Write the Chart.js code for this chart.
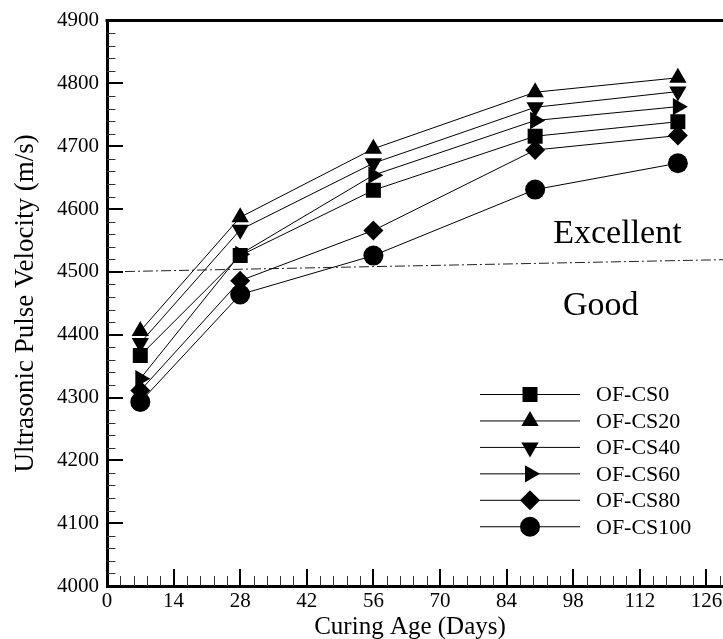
<!DOCTYPE html>
<html><head><meta charset="utf-8">
<script src="https://cdn.jsdelivr.net/npm/chart.js@4"></script>
<style>
html,body{margin:0;padding:0;overflow:hidden;background:#fff;width:723px;height:639px}
#wrap{width:800px;height:639px}
</style></head>
<body><div id="wrap"><canvas id="c" width="800" height="639"></canvas></div>
<script>
// ---- data ----
const days = [7, 28, 56, 90, 120];
const seriesNames = ['OF-CS0', 'OF-CS20', 'OF-CS40', 'OF-CS60', 'OF-CS80', 'OF-CS100'];
const cs0   = [4367, 4526, 4630, 4716, 4739];
const cs20  = [4406, 4587, 4696, 4786, 4809];
const cs40  = [4387, 4567, 4673, 4762, 4787];
const cs60  = [4330, 4528, 4654, 4741, 4763];
const cs80  = [4311, 4486, 4566, 4694, 4717];
const cs100 = [4293, 4464, 4526, 4631, 4673];
const limitDays = [0, 140];
const limitVelocity = [4500, 4521];
const zoneLabels = ['Excellent', 'Good'];
const zoneDays = [107.3, 103.8];
const zoneVelocity = [4546, 4431];
const xTitle = 'Curing Age (Days)';
const yTitle = 'Ultrasonic Pulse Velocity (m/s)';

const FONT = "'Liberation Serif','Times New Roman',serif";
const styles = [
  {pointStyle:'rect', rotation:0, radius:10.6},
  {pointStyle:'triangle', rotation:0, radius:10},
  {pointStyle:'triangle', rotation:180, radius:10},
  {pointStyle:'triangle', rotation:90, radius:10},
  {pointStyle:'rectRot', rotation:0, radius:10},
  {pointStyle:'circle', rotation:0, radius:10}
];
const allSeries = [cs0, cs20, cs40, cs60, cs80, cs100];

const datasets = allSeries.map((vals, i) => ({
  label: seriesNames[i],
  data: days.map((d, j) => ({x: d, y: vals[j]})),
  borderColor: '#000',
  backgroundColor: '#000',
  borderWidth: 1,
  pointStyle: styles[i].pointStyle,
  pointRotation: styles[i].rotation,
  pointRadius: styles[i].radius,
  pointBorderWidth: 0,
  pointBackgroundColor: '#000',
  tension: 0
}));
datasets.push({
  label: 'limit',
  data: limitDays.map((d, j) => ({x: d, y: limitVelocity[j]})),
  borderColor: '#222',
  borderWidth: 1,
  borderDash: [10, 3, 2, 3],
  pointRadius: 0,
  tension: 0
});

function drawMarker(ctx, st, x, y) {
  if (Chart.helpers && Chart.helpers.drawPoint) {
    ctx.save();
    ctx.fillStyle = '#000'; ctx.strokeStyle = '#000';
    Chart.helpers.drawPoint(ctx, {pointStyle: st.pointStyle, rotation: st.rotation, radius: st.radius, borderWidth: 0}, x, y);
    ctx.restore();
  }
}

const decor = {
  id: 'decor',
  afterDraw(chart) {
    const ctx = chart.ctx, xs = chart.scales.x, ys = chart.scales.y, ca = chart.chartArea;
    ctx.save();
    // top frame line
    ctx.strokeStyle = '#000'; ctx.lineWidth = 3;
    ctx.beginPath(); ctx.moveTo(ca.left - 1.5, ca.top); ctx.lineTo(ca.right, ca.top); ctx.stroke();
    // y ticks (inward)
    for (let i = 0; i <= 45; i++) {
      const v = 4000 + i * 20;
      const y = ys.getPixelForValue(v);
      const major = i % 5 === 0;
      ctx.lineWidth = major ? 2 : 1;
      ctx.strokeStyle = major ? '#000' : '#333';
      ctx.beginPath(); ctx.moveTo(ca.left, Math.round(y) + (major ? 0 : 0.5)); ctx.lineTo(ca.left + (major ? 16 : 8.5), Math.round(y) + (major ? 0 : 0.5)); ctx.stroke();
    }
    // x ticks (inward)
    for (let i = 0; i <= 50; i++) {
      const v = i * 2.8;
      const x = xs.getPixelForValue(v);
      const major = i % 5 === 0;
      ctx.lineWidth = major ? 2 : 1;
      ctx.strokeStyle = major ? '#000' : '#333';
      ctx.beginPath(); ctx.moveTo(Math.round(x) + (major ? 0 : 0.5), ca.bottom); ctx.lineTo(Math.round(x) + (major ? 0 : 0.5), ca.bottom - (major ? 17 : 10)); ctx.stroke();
    }
    // zone labels
    ctx.fillStyle = '#000';
    ctx.font = '34px ' + FONT;
    ctx.textAlign = 'center'; ctx.textBaseline = 'alphabetic';
    zoneLabels.forEach((t, i) => ctx.fillText(t, xs.getPixelForValue(zoneDays[i]), ys.getPixelForValue(zoneVelocity[i])));
    // x title
    ctx.font = '25px ' + FONT;
    ctx.textAlign = 'center'; ctx.textBaseline = 'middle';
    ctx.fillText(xTitle, 410, 627);
    // legend
    const lx0 = 480, lx1 = 580, lmx = 530, ly0 = 394.5, ldy = 26.45, ltx = 596;
    ctx.font = '22px ' + FONT;
    ctx.textAlign = 'left'; ctx.textBaseline = 'middle';
    seriesNames.forEach((name, i) => {
      const y = ly0 + i * ldy;
      ctx.strokeStyle = '#000'; ctx.lineWidth = 1;
      ctx.beginPath(); ctx.moveTo(lx0, y); ctx.lineTo(lx1, y); ctx.stroke();
      drawMarker(ctx, styles[i], lmx, y);
      ctx.fillStyle = '#000';
      ctx.fillText(name, ltx, y + 1);
    });
    ctx.restore();
  }
};

new Chart(document.getElementById('c'), {
  type: 'line',
  data: {datasets},
  options: {
    responsive: false,
    animation: false,
    layout: {padding: {left: 0, right: 27, top: 20, bottom: 0}},
    plugins: {legend: {display: false}, tooltip: {enabled: false}},
    scales: {
      x: {
        type: 'linear', min: 0, max: 140,
        ticks: {stepSize: 14, color: '#000', font: {family: FONT, size: 21}, padding: 3, maxRotation: 0, autoSkip: false,
                callback: v => String(v)},
        grid: {display: false, drawTicks: false},
        border: {display: true, width: 3, color: '#000'},
        afterFit(s) { s.height = 53; }
      },
      y: {
        type: 'linear', min: 4000, max: 4900,
        ticks: {stepSize: 100, color: '#000', font: {family: FONT, size: 21}, padding: 8,
                callback: v => String(v)},
        grid: {display: false, drawTicks: false},
        border: {display: true, width: 3, color: '#000'},
        title: {display: true, text: yTitle, color: '#000', font: {family: FONT, size: 27, lineHeight: 1}, padding: {top: 12, bottom: 0}},
        afterFit(s) { s.width = 107; }
      }
    }
  },
  plugins: [decor]
});
</script>
</body></html>
